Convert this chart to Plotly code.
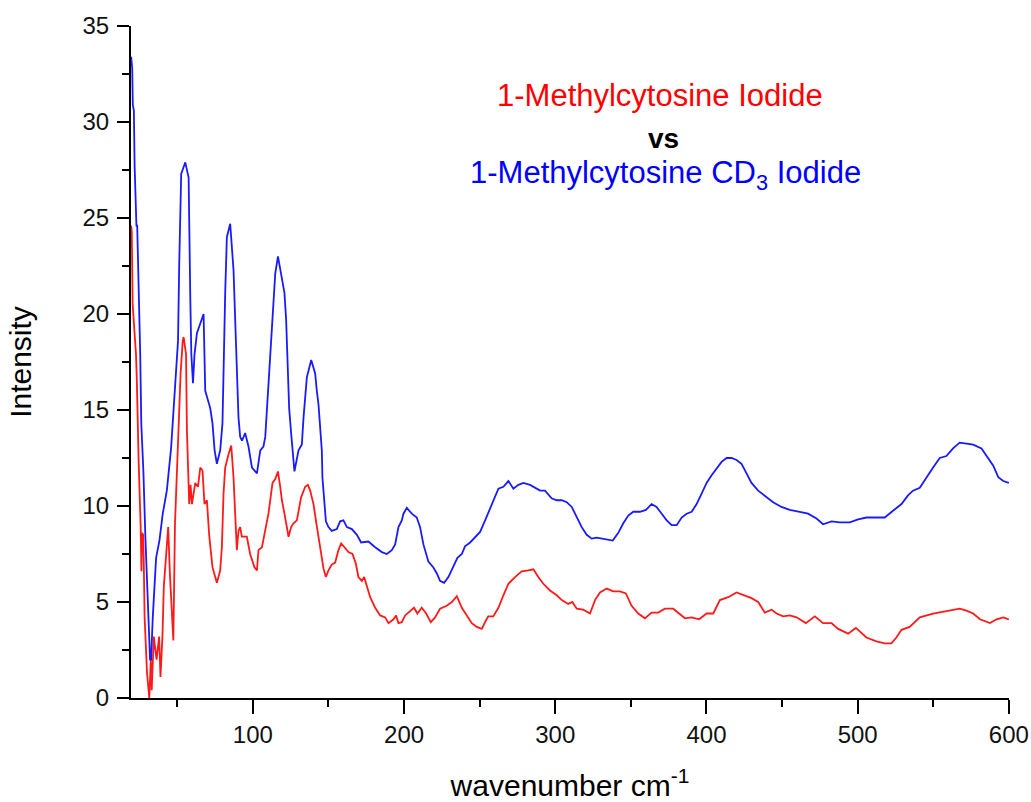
import plotly.graph_objects as go

# 1-Methylcytosine Iodide (red)
red_x = [19.5, 19.9, 20.5, 21.8, 22.7, 23.2, 23.8, 24.5, 25.8, 26.3, 26.7, 27.4, 27.8, 28.4, 30.0,
         31.5, 32.5, 33.1, 34.5, 36.3, 38.0, 38.9, 40.2, 41.1, 42.5, 44.0, 45.1, 46.2, 47.4, 48.5,
         50.7, 52.2, 53.6, 54.2, 55.8, 56.4, 57.9, 58.8, 59.7, 61.9, 63.7, 65.2, 66.7, 68.0, 69.6,
         70.0, 71.1, 73.3, 75.1, 76.2, 78.4, 79.5, 80.6, 81.7, 83.9, 85.7, 87.2, 88.3, 89.4, 90.5,
         91.6, 92.7, 96.0, 98.2, 99.4, 101.1, 102.7, 103.7, 106.0, 108.2, 110.3, 111.5, 113.0, 114.8,
         116.6, 118.1, 119.2, 120.9, 122.5, 123.6, 125.3, 126.9, 129.1, 130.2, 131.9, 134.6, 136.4,
         137.9, 140.1, 141.7, 143.4, 145.2, 146.7, 148.3, 150.0, 152.2, 154.4, 156.6, 158.4, 160.6,
         163.2, 165.9, 168.1, 169.8, 172.1, 173.6, 175.4, 177.6, 180.9, 184.2, 187.5, 189.7, 193.0,
         194.7, 196.3, 198.5, 200.7, 204.0, 206.6, 208.8, 211.7, 214.6, 217.7, 220.5, 223.8, 228.2,
         231.6, 234.9, 238.2, 241.5, 244.8, 248.1, 251.4, 254.2, 255.7, 259.0, 262.4, 265.7, 269.0,
         273.4, 277.8, 282.2, 285.5, 288.8, 292.1, 296.5, 301.0, 304.3, 308.6, 311.3, 314.2, 318.5,
         323.0, 326.3, 329.6, 334.0, 338.4, 342.8, 346.7, 350.5, 354.9, 359.3, 363.7, 368.1, 372.5,
         378.0, 381.3, 385.8, 390.2, 395.2, 400.1, 404.5, 408.9, 414.4, 419.9, 424.3, 429.8, 434.2,
         438.6, 443.1, 446.4, 450.7, 455.1, 459.6, 465.7, 471.7, 477.1, 482.7, 487.1, 493.7, 498.8,
         505.8, 512.4, 517.9, 522.3, 525.6, 529.0, 534.4, 541.1, 549.9, 556.5, 562.0, 567.5, 572.0,
         576.4, 580.9, 587.5, 591.9, 596.3, 600.0]
red_y = [24.6, 24.3, 20.5, 19.2, 17.9, 16.7, 13.6, 12.2, 8.9, 6.6, 8.6, 8.5, 7.3, 4.2, 1.3,
         0.0, 2.0, 0.4, 3.2, 2.0, 3.2, 1.1, 3.2, 5.8, 7.3, 8.9, 6.5, 4.7, 3.0, 9.1,
         13.4, 16.9, 18.6, 18.8, 17.9, 13.9, 10.1, 11.1, 10.1, 11.2, 11.0, 12.0, 11.85, 10.1, 10.3,
         9.8, 8.5, 6.8, 6.3, 6.0, 6.65, 7.85, 10.65, 12.0, 12.7, 13.15, 11.5, 9.6, 7.7, 8.7,
         8.9, 8.4, 8.4, 7.5, 7.2, 6.8, 6.65, 7.7, 7.85, 8.7, 9.6, 10.3, 11.2, 11.4,
         11.8, 11.0, 10.3, 9.6, 8.9, 8.4, 8.9, 9.1, 9.25, 9.8, 10.45, 11.0, 11.1,
         10.8, 10.1, 9.25, 8.4, 7.3, 6.75, 6.3, 6.65, 6.95, 7.05, 7.7, 8.05, 7.85,
         7.6, 7.5, 7.0, 6.3, 6.1, 6.3, 5.8, 5.25, 4.7, 4.3, 4.2, 3.9, 4.1,
         4.3, 3.9, 3.95, 4.3, 4.55, 4.7, 4.4, 4.7, 4.4, 3.95, 4.2, 4.65, 4.8,
         5.0, 5.3, 4.7, 4.3, 3.9, 3.7, 3.6, 4.05, 4.25, 4.25, 4.7, 5.35, 5.95,
         6.3, 6.6, 6.65, 6.7, 6.3, 5.95, 5.6, 5.35, 5.1, 4.9, 5.0, 4.65, 4.6,
         4.4, 5.1, 5.5, 5.7, 5.55, 5.55, 5.45, 4.8, 4.4, 4.15, 4.45, 4.45, 4.65,
         4.65, 4.45, 4.15, 4.2, 4.1, 4.4, 4.4, 5.1, 5.25, 5.5, 5.35, 5.2, 5.0,
         4.45, 4.6, 4.4, 4.25, 4.3, 4.2, 3.9, 4.25, 3.9, 3.9, 3.6, 3.35, 3.65,
         3.15, 2.95, 2.85, 2.85, 3.15, 3.55, 3.7, 4.2, 4.4, 4.5, 4.55, 4.65, 4.55,
         4.4, 4.1, 3.9, 4.1, 4.2, 4.1]

# 1-Methylcytosine CD3 Iodide (blue)
blue_x = [19.5, 20.2, 20.6, 21.3, 21.8, 23.0, 23.5, 24.3, 25.5, 26.2, 27.6, 28.9, 30.5, 32.0, 32.7,
          33.8, 36.0, 38.2, 40.4, 43.1, 45.9, 48.1, 49.1, 49.8, 50.5, 51.3, 52.6, 55.3, 57.5, 58.6,
          59.3, 60.4, 61.4, 63.0, 67.4, 68.5, 71.8, 73.3, 74.7, 76.2, 78.4, 79.9, 80.6, 81.7, 82.8,
          85.0, 87.2, 88.3, 89.4, 90.5, 91.6, 92.8, 94.9, 97.1, 99.4, 102.7, 104.9, 107.0, 108.2,
          110.3, 112.1, 113.6, 114.8, 116.6, 119.2, 120.9, 122.0, 122.9, 124.0, 125.3, 126.2, 127.5,
          130.2, 132.4, 133.5, 134.6, 135.7, 138.6, 141.2, 142.3, 143.4, 144.5, 145.6, 146.0, 148.3,
          150.0, 152.2, 155.5, 157.7, 159.9, 162.2, 165.5, 168.8, 171.6, 176.4, 180.9, 185.3, 188.6,
          191.9, 194.1, 196.3, 198.5, 199.6, 201.8, 205.1, 208.4, 210.6, 212.8, 216.1, 219.4, 221.6,
          223.8, 226.5, 229.3, 232.6, 235.3, 238.2, 240.3, 243.7, 248.1, 250.3, 253.6, 256.9, 260.2,
          262.4, 265.7, 269.0, 272.3, 275.6, 278.9, 283.3, 290.0, 293.2, 297.6, 301.0, 304.3, 307.6,
          310.9, 314.2, 317.5, 320.8, 324.1, 327.4, 330.7, 334.0, 338.0, 341.7, 345.0, 348.3, 351.6,
          356.0, 360.0, 363.7, 367.0, 370.4, 373.7, 377.0, 380.3, 383.6, 386.9, 390.2, 393.5, 396.8,
          400.1, 403.4, 406.7, 410.0, 413.3, 416.6, 419.9, 423.2, 426.5, 429.8, 434.2, 439.7, 444.1,
          449.6, 455.1, 461.7, 467.2, 472.8, 477.1, 482.7, 488.2, 494.8, 500.3, 505.8, 512.4, 517.9,
          523.4, 529.0, 533.3, 536.6, 541.1, 545.5, 549.9, 554.3, 558.7, 563.1, 567.5, 572.0, 576.4,
          581.9, 585.2, 589.7, 593.0, 596.3, 600.0]
blue_y = [33.4, 32.8, 30.9, 30.6, 27.7, 24.6, 24.6, 22.4, 17.9, 14.3, 11.8, 8.4, 4.7, 2.0, 2.0,
          4.2, 7.3, 8.2, 9.6, 10.8, 13.0, 15.9, 17.1, 17.9, 18.6, 22.6, 27.3, 27.9, 27.1, 20.9,
          17.9, 16.4, 17.9, 19.0, 20.0, 16.0, 15.1, 14.3, 12.9, 12.2, 12.9, 14.3, 17.4, 21.1, 24.0,
          24.7, 22.3, 19.7, 16.5, 14.6, 13.6, 13.4, 13.8, 13.1, 12.0, 11.7, 12.9, 13.1, 13.6,
          16.4, 18.3, 20.3, 22.1, 23.0, 21.9, 21.1, 19.7, 17.6, 15.1, 13.8, 12.9, 11.8,
          12.9, 13.2, 14.6, 15.5, 16.7, 17.6, 16.9, 16.0, 15.3, 14.1, 12.9, 11.5, 9.2,
          8.9, 8.7, 8.8, 9.2, 9.25, 8.9, 8.8, 8.5, 8.1, 8.15, 7.85, 7.6, 7.5,
          7.7, 8.0, 8.9, 9.25, 9.6, 9.9, 9.6, 9.4, 8.9, 8.0, 7.1, 6.8, 6.5,
          6.1, 6.0, 6.3, 6.9, 7.3, 7.5, 7.9, 8.1, 8.5, 8.65, 9.25, 9.9, 10.55,
          10.9, 11.0, 11.3, 10.9, 11.1, 11.2, 11.1, 10.8, 10.8, 10.4, 10.3, 10.3, 10.2,
          9.95, 9.4, 8.9, 8.5, 8.3, 8.35, 8.3, 8.25, 8.2, 8.6, 9.1, 9.5, 9.7,
          9.7, 9.8, 10.1, 9.95, 9.6, 9.25, 9.0, 9.0, 9.4, 9.6, 9.7, 10.1, 10.65,
          11.2, 11.6, 11.95, 12.3, 12.5, 12.5, 12.4, 12.2, 11.7, 11.2, 10.8, 10.45, 10.2,
          9.95, 9.8, 9.7, 9.6, 9.35, 9.05, 9.2, 9.15, 9.15, 9.3, 9.4, 9.4, 9.4,
          9.75, 10.1, 10.55, 10.8, 10.95, 11.5, 12.0, 12.5, 12.6, 13.0, 13.3, 13.25, 13.2,
          13.0, 12.6, 12.1, 11.5, 11.3, 11.2]

x_ticks = [100, 200, 300, 400, 500, 600]
x_minor = [50, 150, 250, 350, 450, 550]
y_ticks = [0, 5, 10, 15, 20, 25, 30, 35]
y_minor = [2.5, 7.5, 12.5, 17.5, 22.5, 27.5, 32.5]

FONT = "Arial, Liberation Sans, sans-serif"

fig = go.Figure()
fig.add_trace(go.Scatter(x=red_x, y=red_y, mode="lines",
                         line=dict(color="#ff1a1a", width=1.8),
                         name="1-Methylcytosine Iodide", showlegend=False))
fig.add_trace(go.Scatter(x=blue_x, y=blue_y, mode="lines",
                         line=dict(color="#1a1aff", width=1.8),
                         name="1-Methylcytosine CD3 Iodide", showlegend=False))

axis_common = dict(showline=True, linecolor="black", linewidth=2, mirror=False,
                   showgrid=False, zeroline=False, ticks="outside", tickcolor="black",
                   tickwidth=2, tickfont=dict(family=FONT, size=24, color="#111111"))

fig.update_xaxes(**axis_common, range=[19.4, 600.1], tickvals=x_ticks,
                 ticktext=[str(v) for v in x_ticks], ticklen=14,
                 ticklabeloverflow="allow",
                 minor=dict(tickvals=x_minor, ticklen=7,
                            ticks="outside", tickcolor="black", tickwidth=2),
                 title=dict(text="wavenumber cm<sup>-1</sup>",
                            font=dict(family=FONT, size=30, color="black"), standoff=37))
fig.update_yaxes(**axis_common, range=[0, 35], tickvals=y_ticks,
                 ticktext=[str(v) for v in y_ticks], ticklen=12, ticklabelstandoff=3,
                 minor=dict(tickvals=y_minor, ticklen=7,
                            ticks="outside", tickcolor="black", tickwidth=2),
                 title=dict(text="Intensity",
                            font=dict(family=FONT, size=30, color="black"), standoff=42))

ann_font = dict(family=FONT, size=31)
fig.add_annotation(text="1-Methylcytosine Iodide", xref="paper", yref="paper",
                   x=0.6024, y=0.8965, showarrow=False, xanchor="center", yanchor="middle",
                   font=dict(**ann_font, color="#ff0000"))
fig.add_annotation(text="<b>vs</b>", xref="paper", yref="paper",
                   x=0.6060, y=0.8329, showarrow=False, xanchor="center", yanchor="middle",
                   font=dict(family=FONT, size=28, color="black"))
fig.add_annotation(text="1-Methylcytosine CD<sub>3</sub> Iodide", xref="paper", yref="paper",
                   x=0.6093, y=0.7778, showarrow=False, xanchor="center", yanchor="middle",
                   font=dict(**ann_font, color="#0000ff"))

fig.update_layout(width=1031, height=802, plot_bgcolor="white", paper_bgcolor="white",
                  margin=dict(l=131, r=22, t=26, b=104, autoexpand=False),
                  font=dict(family=FONT))

# remove the page's default body margin so the figure fills the window exactly
fig.write_html("out.html", config={"displayModeBar": False},
               post_script="document.body.style.margin='0';document.body.style.overflow='hidden';")
